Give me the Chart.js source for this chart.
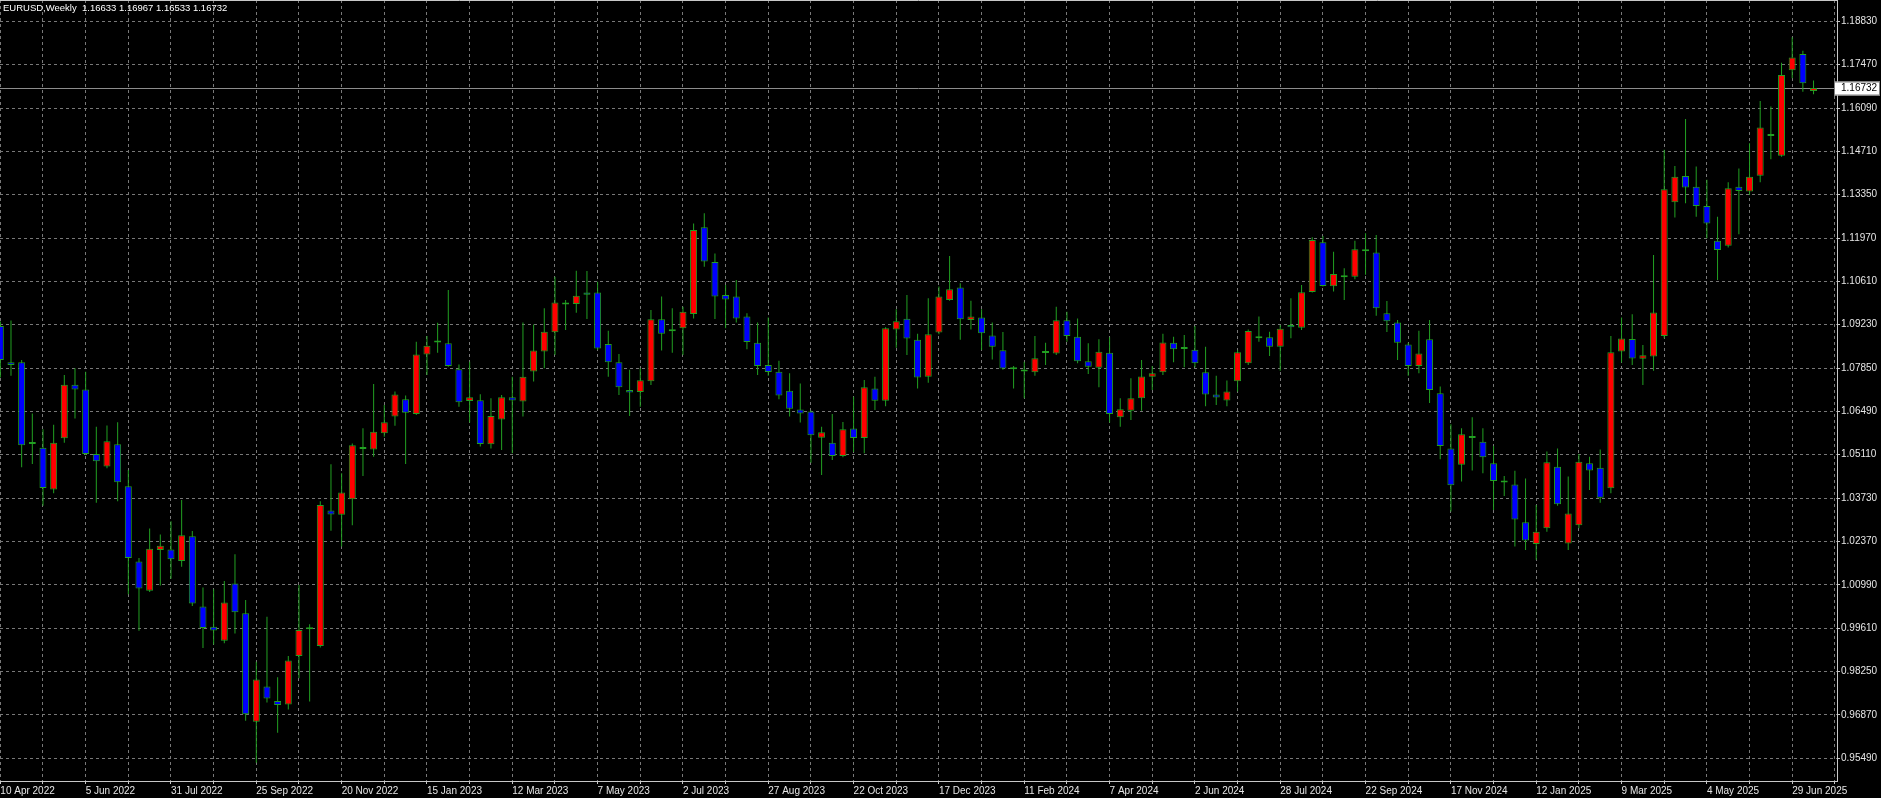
<!DOCTYPE html>
<html>
<head>
<meta charset="utf-8">
<title>EURUSD Weekly</title>
<script src="https://cdn.jsdelivr.net/npm/chart.js@4.4.0/dist/chart.umd.min.js"></script>
<style>
  html, body { margin: 0; padding: 0; background: #000; }
  #wrap { position: relative; width: 1881px; height: 798px; overflow: hidden; }
  #title { position: absolute; left: 3px; top: 2px; color: #fff; font: 9.5px "Liberation Sans", Arial, sans-serif; white-space: pre; }
</style>
</head>
<body>
<div id="wrap">
  <canvas id="eurusdChart" width="1881" height="798"></canvas>
  <div id="title"></div>
</div>
<script>
// weekly candles, first bar = week of 10 Apr 2022
var symbolName = 'EURUSD,Weekly';
var xTickLabels = ['10 Apr 2022', '5 Jun 2022', '31 Jul 2022', '25 Sep 2022', '20 Nov 2022', '15 Jan 2023',
    '12 Mar 2023', '7 May 2023', '2 Jul 2023', '27 Aug 2023', '22 Oct 2023', '17 Dec 2023', '11 Feb 2024',
    '7 Apr 2024', '2 Jun 2024', '28 Jul 2024', '22 Sep 2024', '17 Nov 2024', '12 Jan 2025', '9 Mar 2025',
    '4 May 2025', '29 Jun 2025'];
var yTickValues = [1.18830, 1.17470, 1.16090, 1.14710, 1.13350, 1.11970, 1.10610, 1.09230, 1.07850,
    1.06490, 1.05110, 1.03730, 1.02370, 1.00990, 0.99610, 0.98250, 0.96870, 0.95490];

var opens = [
    1.0919, 1.0804, 1.0804, 1.0545, 1.0533, 1.0401, 1.0563, 1.0733, 1.0718, 1.0513,
    1.0474, 1.0544, 1.0411, 1.0173, 1.0080, 1.0209, 1.0211, 1.0174, 1.0253, 1.0030,
    0.9966, 0.9922, 1.0103, 1.0009, 0.9665, 0.9777, 0.9731, 0.9720, 0.9873, 0.9958,
    0.9905, 1.0334, 1.0321, 1.0370, 1.0529, 1.0528, 1.0579, 1.0632, 1.0687, 1.0640,
    1.0829, 1.0867, 1.0864, 1.0782, 1.0681, 1.0684, 1.0544, 1.0623, 1.0693, 1.0680,
    1.0775, 1.0838, 1.0899, 1.0987, 1.0989, 1.1025, 1.1025, 1.0862, 1.0804, 1.0716,
    1.0710, 1.0744, 1.0940, 1.0902, 1.0912, 1.0957, 1.1232, 1.1122, 1.1017, 1.1012,
    1.0949, 1.0866, 1.0795, 1.0774, 1.0714, 1.0654, 1.0648, 1.0565, 1.0549, 1.0507,
    1.0594, 1.0564, 1.0721, 1.0682, 1.0908, 1.0942, 1.0875, 1.0758, 1.0898, 1.1001,
    1.1041, 1.0938, 1.0946, 1.0889, 1.0842, 1.0782, 1.0775, 1.0772, 1.0833, 1.0832,
    1.0937, 1.0885, 1.0807, 1.0787, 1.0834, 1.0630, 1.0650, 1.0690, 1.0758, 1.0772,
    1.0866, 1.0846, 1.0844, 1.0772, 1.0702, 1.0683, 1.0744, 1.0801, 1.0885, 1.0883,
    1.0853, 1.0922, 1.0913, 1.1027, 1.1184, 1.1045, 1.1079, 1.1075, 1.1156, 1.1152,
    1.0959, 1.0930, 1.0860, 1.0792, 1.0877, 1.0706, 1.0531, 1.0479, 1.0564, 1.0552,
    1.0484, 1.0429, 1.0417, 1.0297, 1.0228, 1.0278, 1.0473, 1.0230, 1.0288, 1.0484,
    1.0470, 1.0405, 1.0838, 1.0878, 1.0815, 1.0822, 1.0887, 1.1311, 1.1394, 1.1360,
    1.1299, 1.1189, 1.1173, 1.1360, 1.1345, 1.1395, 1.1527, 1.1458, 1.1729, 1.1781,
    1.16633];
var highs = [
    1.0933, 1.0936, 1.0811, 1.0642, 1.0592, 1.0606, 1.0764, 1.0785, 1.0774, 1.0600,
    1.0604, 1.0614, 1.0463, 1.0184, 1.0277, 1.0258, 1.0300, 1.0368, 1.0269, 1.0090,
    1.0085, 1.0111, 1.0196, 1.0051, 0.9855, 0.9998, 0.9806, 0.9873, 1.0098, 0.9974,
    1.0364, 1.0481, 1.0452, 1.0547, 1.0595, 1.0735, 1.0669, 1.0711, 1.0699, 1.0869,
    1.0887, 1.0929, 1.1033, 1.0797, 1.0806, 1.0703, 1.0690, 1.0700, 1.0758, 1.0930,
    1.0924, 1.0975, 1.1075, 1.1001, 1.1094, 1.1093, 1.1059, 1.0904, 1.0830, 1.0780,
    1.0785, 1.0970, 1.1012, 1.0975, 1.0980, 1.1244, 1.1276, 1.1149, 1.1049, 1.1065,
    1.0959, 1.0930, 1.0946, 1.0809, 1.0769, 1.0737, 1.0651, 1.0600, 1.0640, 1.0615,
    1.0695, 1.0748, 1.0758, 1.0915, 1.0972, 1.1017, 1.0894, 1.1007, 1.1044, 1.1141,
    1.1054, 1.0999, 1.0972, 1.0930, 1.0900, 1.0792, 1.0806, 1.0887, 1.0866, 1.0980,
    1.0964, 1.0943, 1.0864, 1.0877, 1.0883, 1.0690, 1.0753, 1.0811, 1.0792, 1.0894,
    1.0885, 1.0890, 1.0919, 1.0853, 1.0761, 1.0746, 1.0843, 1.0908, 1.0949, 1.0901,
    1.0922, 1.1007, 1.1049, 1.1200, 1.1204, 1.1154, 1.1102, 1.1189, 1.1213, 1.1207,
    1.0998, 1.0938, 1.0866, 1.0904, 1.0938, 1.0727, 1.0608, 1.0595, 1.0630, 1.0595,
    1.0539, 1.0444, 1.0460, 1.0436, 1.0352, 1.0521, 1.0531, 1.0442, 1.0513, 1.0505,
    1.0528, 1.0887, 1.0946, 1.0956, 1.0859, 1.1144, 1.1477, 1.1426, 1.1575, 1.1424,
    1.1382, 1.1265, 1.1374, 1.1418, 1.1498, 1.1632, 1.1614, 1.1753, 1.1834, 1.1791,
    1.16967];
var lows = [
    1.0756, 1.0761, 1.0471, 1.0482, 1.0349, 1.0389, 1.0549, 1.0626, 1.0510, 1.0359,
    1.0468, 1.0364, 1.0069, 0.9953, 1.0076, 1.0097, 1.0118, 1.0156, 1.0032, 0.9899,
    0.9910, 0.9914, 0.9945, 0.9668, 0.9535, 0.9726, 0.9630, 0.9704, 0.9803, 0.9729,
    0.9900, 1.0270, 1.0220, 1.0288, 1.0444, 1.0505, 1.0568, 1.0603, 1.0482, 1.0637,
    1.0764, 1.0834, 1.0790, 1.0663, 1.0613, 1.0537, 1.0531, 1.0526, 1.0516, 1.0632,
    1.0743, 1.0785, 1.0827, 1.0906, 1.0961, 1.0941, 1.0843, 1.0758, 1.0700, 1.0634,
    1.0663, 1.0732, 1.0841, 1.0834, 1.0827, 1.0943, 1.1107, 1.0941, 1.0912, 1.0930,
    1.0845, 1.0764, 1.0761, 1.0687, 1.0632, 1.0613, 1.0486, 1.0447, 1.0494, 1.0503,
    1.0520, 1.0516, 1.0653, 1.0665, 1.0850, 1.0827, 1.0721, 1.0739, 1.0893, 1.0999,
    1.0875, 1.0908, 1.0843, 1.0813, 1.0780, 1.0721, 1.0690, 1.0761, 1.0795, 1.0827,
    1.0869, 1.0801, 1.0767, 1.0725, 1.0613, 1.0600, 1.0621, 1.0650, 1.0716, 1.0764,
    1.0804, 1.0788, 1.0788, 1.0665, 1.0669, 1.0665, 1.0711, 1.0795, 1.0869, 1.0824,
    1.0777, 1.0880, 1.0906, 1.1025, 1.1044, 1.1028, 1.1001, 1.1067, 1.1081, 1.0951,
    1.0900, 1.0811, 1.0761, 1.0769, 1.0675, 1.0497, 1.0331, 1.0426, 1.0461, 1.0452,
    1.0336, 1.0380, 1.0220, 1.0209, 1.0178, 1.0267, 1.0349, 1.0209, 1.0278, 1.0399,
    1.0359, 1.0389, 1.0803, 1.0795, 1.0732, 1.0777, 1.0880, 1.1263, 1.1308, 1.1265,
    1.1197, 1.1065, 1.1168, 1.1210, 1.1334, 1.1374, 1.1447, 1.1455, 1.1704, 1.1661,
    1.16533];
var closes = [
    1.0811, 1.0795, 1.0541, 1.0547, 1.0406, 1.0549, 1.0733, 1.0718, 1.0513, 1.0490,
    1.0554, 1.0424, 1.0184, 1.0087, 1.0213, 1.0223, 1.0180, 1.0256, 1.0040, 0.9962,
    0.9954, 1.0043, 1.0012, 0.9689, 0.9799, 0.9739, 0.9718, 0.9859, 0.9956, 0.9960,
    1.0352, 1.0322, 1.0391, 1.0541, 1.0531, 1.0584, 1.0614, 1.0702, 1.0644, 1.0829,
    1.0856, 1.0869, 1.0792, 1.0677, 1.0693, 1.0545, 1.0634, 1.0693, 1.0683, 1.0758,
    1.0841, 1.0901, 1.0993, 1.0988, 1.1015, 1.1018, 1.0848, 1.0804, 1.0725, 1.0708,
    1.0747, 1.0940, 1.0894, 1.0908, 1.0964, 1.1223, 1.1123, 1.1012, 1.1003, 1.0943,
    1.0868, 1.0792, 1.0773, 1.0699, 1.0657, 1.0642, 1.0573, 1.0582, 1.0507, 1.0592,
    1.0564, 1.0725, 1.0682, 1.0912, 1.0934, 1.0879, 1.0756, 1.0893, 1.1012, 1.1035,
    1.0940, 1.0949, 1.0896, 1.0853, 1.0784, 1.0783, 1.0777, 1.0817, 1.0835, 1.0937,
    1.0887, 1.0807, 1.0790, 1.0837, 1.0640, 1.0655, 1.0690, 1.0759, 1.0769, 1.0867,
    1.0845, 1.0848, 1.0801, 1.0702, 1.0692, 1.0711, 1.0836, 1.0903, 1.0880, 1.0853,
    1.0910, 1.0915, 1.1026, 1.1191, 1.1046, 1.1084, 1.1073, 1.1162, 1.1162, 1.0975,
    1.0934, 1.0866, 1.0792, 1.0832, 1.0716, 1.0539, 1.0414, 1.0576, 1.0566, 1.0503,
    1.0428, 1.0423, 1.0306, 1.0239, 1.0267, 1.0487, 1.0354, 1.0325, 1.0489, 1.0461,
    1.0375, 1.0836, 1.0879, 1.0816, 1.0826, 1.0962, 1.1352, 1.1392, 1.1358, 1.1299,
    1.1244, 1.1160, 1.1355, 1.1347, 1.1392, 1.1548, 1.1521, 1.1714, 1.1770, 1.1688,
    1.16732];

// view window (price at top / bottom of plot, bars shown)
var yTop = 1.19518, yBottom = 0.94773;
var xFirst = -0.03, xLast = 172.2;

var upColor = '#ff0000';
var downColor = '#0000ff';
var barLineColor = '#22a022';
var gridColor = '#787878';
var frameColor = '#c8c8c8';
var textColor = '#e6e6e6';
var fontFamily = '"Liberation Sans", Arial, sans-serif';

var lastIdx = closes.length - 1;
document.getElementById('title').textContent = symbolName + '  ' + opens[lastIdx].toFixed(5) + ' ' +
    highs[lastIdx].toFixed(5) + ' ' + lows[lastIdx].toFixed(5) + ' ' + closes[lastIdx].toFixed(5);

var bodyData = opens.map(function (o, i) { return { x: i, y: [o, closes[i]] }; });
var wickData = opens.map(function (o, i) { return { x: i, y: [lows[i], highs[i]] }; });
var bodyColors = opens.map(function (o, i) { return closes[i] >= o ? upColor : downColor; });

var bidLine = {
    id: 'bidLine',
    beforeDatasetsDraw: function (chart) {
        var ctx = chart.ctx, area = chart.chartArea;
        var py = Math.round(chart.scales.y.getPixelForValue(closes[lastIdx])) + 0.5;
        ctx.save();
        ctx.strokeStyle = '#8c8c8c';
        ctx.lineWidth = 1;
        ctx.beginPath();
        ctx.moveTo(area.left, py);
        ctx.lineTo(area.right, py);
        ctx.stroke();
        ctx.restore();
    },
    afterDraw: function (chart) {
        var ctx = chart.ctx, area = chart.chartArea;
        var py = Math.round(chart.scales.y.getPixelForValue(closes[lastIdx])) + 0.5;
        ctx.save();
        // top frame line
        ctx.strokeStyle = frameColor;
        ctx.lineWidth = 1;
        ctx.beginPath();
        ctx.moveTo(area.left, area.top + 0.5);
        ctx.lineTo(area.right, area.top + 0.5);
        ctx.stroke();
        // price box on the axis
        ctx.fillStyle = '#ffffff';
        ctx.fillRect(area.right - 3, py - 7, 46, 14);
        ctx.strokeStyle = '#808080';
        ctx.strokeRect(area.right - 2.5, py - 6.5, 45, 13);
        ctx.fillStyle = '#000000';
        ctx.font = '10px ' + fontFamily;
        ctx.textBaseline = 'middle';
        ctx.fillText(closes[lastIdx].toFixed(5), area.right + 4, py);
        ctx.restore();
    }
};

var ctx = document.getElementById('eurusdChart').getContext('2d');
var eurusdChart = new Chart(ctx, {
    type: 'bar',
    data: {
        datasets: [{
            label: 'Body',
            data: bodyData,
            grouped: false,
            order: 0,
            backgroundColor: bodyColors,
            borderColor: barLineColor,
            borderWidth: 1,
            borderSkipped: false,
            inflateAmount: 0,
            minBarLength: 2,
            barPercentage: 1,
            categoryPercentage: 1,
            maxBarThickness: 7
        }, {
            label: 'Wick',
            data: wickData,
            grouped: false,
            order: 1,
            backgroundColor: barLineColor,
            borderWidth: 0,
            inflateAmount: 0,
            barPercentage: 1,
            categoryPercentage: 1,
            maxBarThickness: 1
        }]
    },
    options: {
        responsive: false,
        animation: false,
        devicePixelRatio: 1,
        layout: { padding: 0 },
        plugins: {
            legend: { display: false },
            tooltip: { enabled: false }
        },
        scales: {
            x: {
                type: 'linear',
                min: xFirst,
                max: xLast,
                offset: false,
                afterBuildTicks: function (scale) {
                    var t = [];
                    for (var w = 0; w <= 172; w += 4) t.push({ value: w });
                    scale.ticks = t;
                },
                afterFit: function (scale) {
                    scale.height = 17;
                    scale.paddingLeft = 0;
                    scale.paddingRight = 0;
                },
                grid: { color: gridColor, offset: false, tickLength: 3, tickColor: frameColor },
                border: { color: frameColor, dash: [3, 3] },
                ticks: {
                    color: textColor,
                    font: { family: fontFamily, size: 10 },
                    padding: 1,
                    align: 'start',
                    autoSkip: false,
                    maxRotation: 0,
                    minRotation: 0,
                    callback: function (value) {
                        return value % 8 === 0 ? (xTickLabels[value / 8] || '') : '';
                    }
                }
            },
            y: {
                type: 'linear',
                position: 'right',
                min: yBottom,
                max: yTop,
                afterBuildTicks: function (scale) {
                    scale.ticks = yTickValues.map(function (v) { return { value: v }; });
                },
                afterFit: function (scale) {
                    scale.width = 44;
                    scale.paddingTop = 0;
                    scale.paddingBottom = 0;
                },
                grid: { color: gridColor, tickLength: 3, tickColor: frameColor },
                border: { color: frameColor, dash: [3, 3] },
                ticks: {
                    color: textColor,
                    font: { family: fontFamily, size: 10 },
                    padding: 1,
                    autoSkip: false,
                    callback: function (value) { return value.toFixed(5); }
                }
            }
        }
    },
    plugins: [bidLine]
});
</script>
</body>
</html>
